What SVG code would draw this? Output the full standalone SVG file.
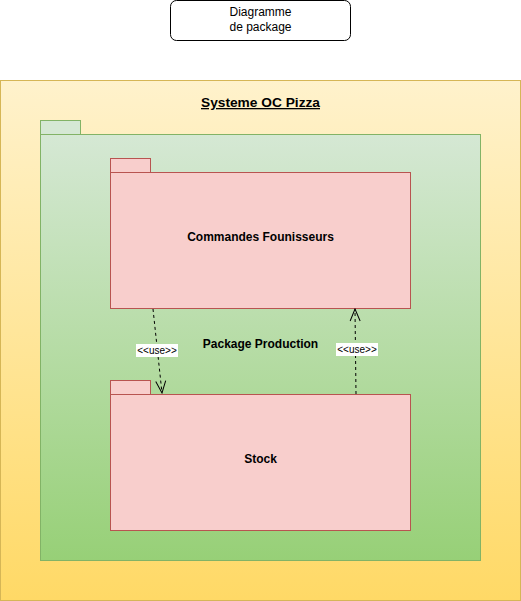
<svg xmlns="http://www.w3.org/2000/svg" width="521" height="601" viewBox="0 0 521 601">
<defs>
<linearGradient id="gY" x1="0" y1="0" x2="0" y2="1"><stop offset="0" stop-color="#fff2cc"/><stop offset="1" stop-color="#ffd966"/></linearGradient>
<linearGradient id="gG" x1="0" y1="0" x2="0" y2="1"><stop offset="0" stop-color="#d5e8d4"/><stop offset="1" stop-color="#97d077"/></linearGradient>
<marker id="open" viewBox="0 0 14 12" refX="13" refY="6" markerWidth="14" markerHeight="12" markerUnits="userSpaceOnUse" orient="auto"><path d="M1,1 L13,6 L1,11" fill="none" stroke="#000" stroke-width="1"/></marker>
<style>
.t{font-family:"Liberation Sans",Arial,Helvetica,sans-serif;fill:#000;text-anchor:middle}
.b{font-weight:bold;font-size:12px}
.red{fill:#f8cecc;stroke:#b85450}
.lbl{font-family:"Liberation Sans",Arial,sans-serif;font-size:10px;text-anchor:middle}
</style>
</defs>
<g id="title">
<rect x="170.5" y="0.5" width="180" height="40" rx="6" fill="#fff" stroke="#000"/>
<text class="t" x="260.5" y="16" font-size="12">Diagramme</text>
<text class="t" x="260.5" y="31" font-size="12">de package</text>
</g>
<g id="systeme">
<rect x="0.5" y="80.5" width="520" height="520" fill="url(#gY)" stroke="#d6b656"/>
<text class="t" x="260.5" y="107" font-size="13" font-weight="bold" font-family="Tahoma,'DejaVu Sans',sans-serif" text-decoration="underline" textLength="119" lengthAdjust="spacingAndGlyphs">Systeme OC Pizza</text>
</g>
<g id="production">
<rect x="40.5" y="120.5" width="40" height="14" fill="#d5e8d4" stroke="#82b366"/>
<rect x="40.5" y="134.5" width="440" height="426" fill="url(#gG)" stroke="#82b366"/>
<text class="t b" x="260.5" y="348">Package Production</text>
</g>
<g id="commandes">
<rect class="red" x="110.5" y="158.5" width="40" height="14"/>
<rect class="red" x="110.5" y="172.5" width="300" height="136"/>
<text class="t b" x="260.5" y="241">Commandes Founisseurs</text>
</g>
<g id="stock">
<rect class="red" x="110.5" y="380.5" width="40" height="14"/>
<rect class="red" x="110.5" y="394.5" width="300" height="136"/>
<text class="t b" x="260.5" y="463">Stock</text>
</g>
<g id="connectors" fill="none" stroke="#000" stroke-dasharray="3 3">
<path d="M153,309 L162,393" marker-end="url(#open)"/>
<path d="M356,394 L355,309" marker-end="url(#open)"/>
</g>
<g id="labels">
<rect x="136" y="344" width="42" height="13" fill="#fff"/>
<text class="lbl" x="157" y="354">&lt;&lt;use&gt;&gt;</text>
<rect x="336" y="343" width="42" height="13" fill="#fff"/>
<text class="lbl" x="357" y="353">&lt;&lt;use&gt;&gt;</text>
</g>
</svg>
